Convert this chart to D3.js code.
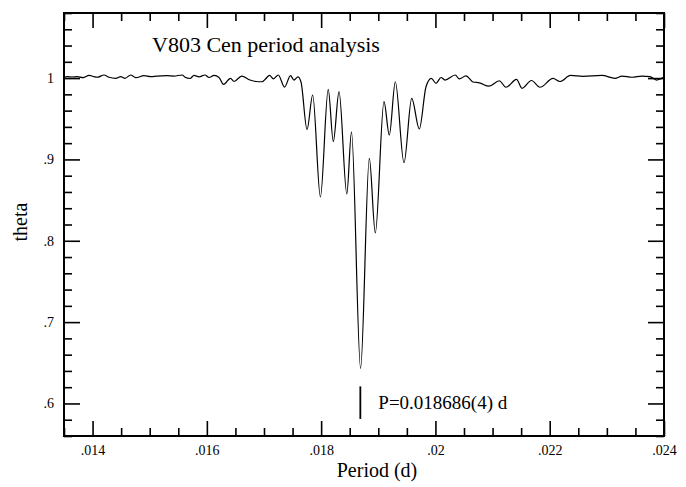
<!DOCTYPE html>
<html>
<head>
<meta charset="utf-8" />
<title>V803 Cen period analysis</title>
<style>
html, body { margin:0; padding:0; background:#FFFFFF; }
svg { display:block; font-family:"Liberation Serif", "Times New Roman", serif; }
</style>
<script src="https://d3js.org/d3.v7.min.js"></script>
</head>
<body>
<script>
// period (d) and theta
var periods = [0.0135,0.013558,0.01364,0.013733,0.013833,0.013938,0.014025,0.014083,0.0142,0.014288,
  0.014405,0.014493,0.014568,0.014667,0.014755,0.0149,0.015017,0.015128,0.0153,0.015425,
  0.01557,0.015618,0.015705,0.015775,0.015863,0.015968,0.016038,0.016125,0.016213,0.016291,
  0.016414,0.016475,0.01661,0.016755,0.01686,0.016965,0.017026,0.017096,0.017166,0.01725,
  0.017359,0.017464,0.017525,0.017595,0.017648,0.017753,0.017852,0.017987,0.018124,0.018213,
  0.018313,0.018449,0.018531,0.01869,0.018843,0.018948,0.0191,0.019193,0.019298,0.01945,
  0.019585,0.019718,0.019835,0.019928,0.02001,0.020098,0.020168,0.020348,0.020418,0.020535,
  0.020658,0.020768,0.020938,0.021118,0.021235,0.021419,0.021515,0.021681,0.02183,0.022058,
  0.02218,0.022364,0.022583,0.022915,0.023143,0.023265,0.02344,0.023615,0.023755,0.023869,
  0.023956,0.024];
var theta = [1.001,1.0017,1.0013,1.0017,1.0005,1.0034,1.0017,1.001,1.0038,1.001,
  0.9997,1.0017,0.9997,1.0038,1.0005,1.0029,1.0017,1.0025,1.0029,1.0025,
  1.0038,1.001,0.9995,1.0032,1.0016,1.0038,1.0007,1.0032,1.0007,0.9923,
  0.9997,0.9958,1.0025,0.9976,0.9958,0.9955,0.9989,1.0032,0.9991,1.0038,
  0.989,1.0029,0.9976,1.0016,0.9952,0.9368,0.9792,0.8538,0.986,0.922,
  0.9833,0.8575,0.934,0.6432,0.9012,0.8096,0.971,0.93,0.9955,0.896,
  0.9751,0.9374,0.9894,0.9997,0.9936,1.0007,0.9976,1.0038,0.9989,1.0028,
  0.9952,0.9942,0.99,0.9967,0.9887,0.9985,0.9874,0.997,0.9887,0.9997,
  0.9958,1.0032,1.0022,1.0032,0.9997,1.0025,1.001,1.0025,1.0017,0.9976,
  0.9997,1.001];

var xMajor = [0.014,0.016,0.018,0.020,0.022,0.024];
var yMajor = [0.6,0.7,0.8,0.9,1.0];
var bestPeriod = 0.018686;
var bestLabel = "P=0.018686(4) d";
var title = "V803 Cen period analysis";

var W = 686, H = 487;
var pL = 64, pR = 664, pT = 13, pB = 436;

var x = d3.scaleLinear().domain([0.0135, 0.024]).range([pL, pR]);
var y = d3.scaleLinear().domain([0.56, 1.08]).range([pB, pT]);

var xMinor = d3.range(0, 22).map(function(i){ return 0.0135 + i*0.0005; })
  .filter(function(v){ return xMajor.every(function(m){ return Math.abs(m-v) > 1e-7; }); });
var yMinor = d3.range(0, 27).map(function(i){ return 0.56 + i*0.02; })
  .filter(function(v){ return yMajor.every(function(m){ return Math.abs(m-v) > 1e-7; }); });

var fmt = function(v){ return d3.format(".3~f")(v).replace(/^0\./, "."); };

var svg = d3.select("body").append("svg").attr("width", W).attr("height", H);

function axisStyle(g){
  g.attr("font-family", null).attr("font-size", null);
  g.select(".domain").remove();
  g.selectAll(".tick line").attr("stroke", "#000").attr("stroke-width", 1.6);
  g.selectAll(".tick text").attr("fill", "#000").attr("font-size", 14);
}

// bottom
svg.append("g").attr("transform", "translate(0," + pB + ")")
  .call(d3.axisBottom(x).tickValues(xMajor).tickFormat(fmt).tickSize(-15).tickPadding(9)).call(axisStyle);
svg.append("g").attr("transform", "translate(0," + pB + ")")
  .call(d3.axisBottom(x).tickValues(xMinor).tickFormat("").tickSize(-8)).call(axisStyle);
// top
svg.append("g").attr("transform", "translate(0," + pT + ")")
  .call(d3.axisTop(x).tickValues(xMajor).tickFormat("").tickSize(-15)).call(axisStyle);
svg.append("g").attr("transform", "translate(0," + pT + ")")
  .call(d3.axisTop(x).tickValues(xMinor).tickFormat("").tickSize(-8)).call(axisStyle);
// left
svg.append("g").attr("transform", "translate(" + pL + ",0)")
  .call(d3.axisLeft(y).tickValues(yMajor).tickFormat(fmt).tickSize(-16).tickPadding(10)).call(axisStyle);
svg.append("g").attr("transform", "translate(" + pL + ",0)")
  .call(d3.axisLeft(y).tickValues(yMinor).tickFormat("").tickSize(-8)).call(axisStyle);
// right
svg.append("g").attr("transform", "translate(" + pR + ",0)")
  .call(d3.axisRight(y).tickValues(yMajor).tickFormat("").tickSize(-16)).call(axisStyle);
svg.append("g").attr("transform", "translate(" + pR + ",0)")
  .call(d3.axisRight(y).tickValues(yMinor).tickFormat("").tickSize(-8)).call(axisStyle);

// frame
svg.append("rect").attr("x", pL).attr("y", pT)
  .attr("width", pR-pL).attr("height", pB-pT)
  .attr("fill", "none").attr("stroke", "#000").attr("stroke-width", 2);

// theta curve
var line = d3.line()
  .x(function(d, i){ return x(periods[i]); })
  .y(function(d){ return y(d); })
  .curve(d3.curveMonotoneX);
svg.append("path").datum(theta).attr("d", line)
  .attr("fill", "none").attr("stroke", "#000").attr("stroke-width", 1.2);

// best period mark
svg.append("line").attr("x1", x(bestPeriod)).attr("x2", x(bestPeriod))
  .attr("y1", y(0.621)).attr("y2", y(0.581))
  .attr("stroke", "#000").attr("stroke-width", 1.8);
svg.append("text").attr("x", x(bestPeriod) + 18).attr("y", y(0.5935))
  .attr("font-size", 19).text(bestLabel);

svg.append("text").attr("x", 152).attr("y", 52).attr("font-size", 22).text(title);

svg.append("text").attr("x", (pL+pR)/2 + 13).attr("y", 477)
  .attr("text-anchor", "middle").attr("font-size", 20).text("Period (d)");
svg.append("text").attr("transform", "translate(27,222) rotate(-90)")
  .attr("text-anchor", "middle").attr("font-size", 20).text("theta");
</script>
</body>
</html>
